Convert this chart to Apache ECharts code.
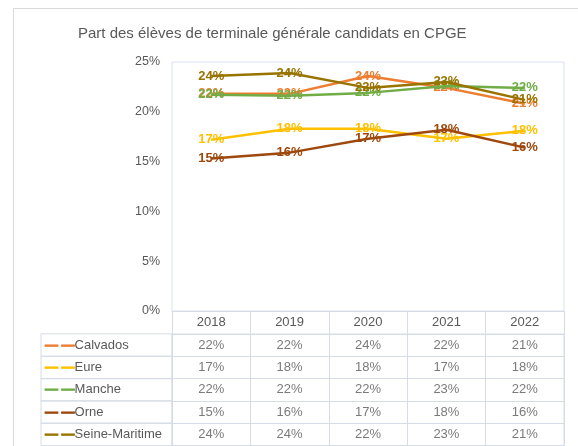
<!DOCTYPE html>
<html>
<head>
<meta charset="utf-8">
<script src="https://cdn.jsdelivr.net/npm/echarts@6/dist/echarts.min.js"></script>
<style>
html,body{margin:0;padding:0;background:#fff;}
#chart{width:578px;height:446px;}
</style>
</head>
<body>
<div id="chart"></div>
<script>
// ---- Data ----
const categories = ['2018', '2019', '2020', '2021', '2022'];
const seriesNames = ['Calvados', 'Eure', 'Manche', 'Orne', 'Seine-Maritime'];
const calvados = [21.8, 21.8, 23.6, 22.4, 20.8];
const eure = [17.2, 18.3, 18.3, 17.3, 18.1];
const manche = [21.7, 21.6, 21.9, 22.6, 22.4];
const orne = [15.3, 15.9, 17.3, 18.2, 16.4];
const seineMaritime = [23.6, 23.9, 22.4, 23.0, 21.2];
const yTicks = { min: 0, max: 25, interval: 5 };
const titleText = 'Part des élèves de terminale générale candidats en CPGE';

// ---- Styles ----
const colors = ['#ED7D31', '#FFC000', '#70AD47', '#9E480E', '#997300'];
const textGray = '#595959';
const tableColor = '#D6DCE5';
const fontFamily = '"Liberation Sans", Arial, sans-serif';

const allValues = [calvados, eure, manche, orne, seineMaritime];
const fmt = v => Math.round(v) + '%';

const lineSeries = seriesNames.map((name, i) => ({
  name: name,
  type: 'line',
  xAxisIndex: 0,
  yAxisIndex: 0,
  data: allValues[i],
  symbol: 'circle',
  symbolSize: 1,
  showSymbol: true,
  lineStyle: { color: colors[i], width: 2.5 },
  itemStyle: { color: colors[i] },
  label: {
    show: true,
    position: 'inside',
    formatter: p => fmt(p.value),
    color: colors[i],
    fontSize: 13,
    fontWeight: 'bold',
    fontFamily: fontFamily
  },
  labelLayout: { hideOverlap: false },
  z: 2 + i
}));

const tableData = [];
seriesNames.forEach((name, i) => {
  categories.forEach((c, j) => {
    tableData.push([c, name, allValues[i][j]]);
  });
});

const rowH = 22.6;
const rich = { n: { color: textGray, fontSize: 13, lineHeight: rowH, fontFamily: fontFamily } };
colors.forEach((c, i) => {
  rich['k' + i] = {
    color: c, fontSize: 13, lineHeight: rowH, fontWeight: 'bold', fontFamily: fontFamily,
    textBorderColor: c, textBorderWidth: 0.8
  };
});

const option = {
  animation: false,
  backgroundColor: '#ffffff',
  textStyle: { fontFamily: fontFamily },
  title: {
    text: titleText,
    left: 73,
    top: 21,
    textStyle: { fontSize: 15, fontWeight: 'normal', color: textGray, fontFamily: fontFamily }
  },
  graphic: [{
    type: 'rect',
    shape: { x: 13.5, y: 8.5, width: 700, height: 600 },
    style: { fill: 'none', stroke: '#D9D9D9', lineWidth: 1 },
    z: -10,
    silent: true
  }],
  grid: [
    { left: 172, top: 62, width: 392, height: 249, show: true, borderColor: '#DAE3F3', borderWidth: 1, containLabel: false },
    { left: 172, top: 334, width: 392, height: 113, show: true, borderColor: tableColor, borderWidth: 1, containLabel: false }
  ],
  xAxis: [
    {
      gridIndex: 0,
      type: 'category',
      data: categories,
      boundaryGap: true,
      axisLine: { show: true, lineStyle: { color: tableColor, width: 1 } },
      axisTick: { show: true, length: 23, inside: false, lineStyle: { color: tableColor } },
      axisLabel: { color: textGray, fontSize: 13, margin: 5, fontFamily: fontFamily },
      splitLine: { show: false }
    },
    {
      gridIndex: 1,
      type: 'category',
      data: categories,
      boundaryGap: true,
      axisLine: { show: false },
      axisTick: { show: false },
      axisLabel: { show: false },
      splitLine: { show: true, lineStyle: { color: tableColor, width: 1 } }
    }
  ],
  yAxis: [
    {
      gridIndex: 0,
      type: 'value',
      min: yTicks.min,
      max: yTicks.max,
      interval: yTicks.interval,
      axisLine: { show: false },
      axisTick: { show: false },
      splitLine: { show: false },
      axisLabel: { formatter: '{value}%', color: textGray, fontSize: 12.5, margin: 12, fontFamily: fontFamily }
    },
    {
      gridIndex: 1,
      type: 'category',
      data: seriesNames,
      inverse: true,
      boundaryGap: true,
      axisLine: { show: false },
      axisTick: { show: false },
      splitLine: { show: true, interval: 0, lineStyle: { color: tableColor, width: 1 } },
      axisLabel: {
        interval: 0,
        hideOverlap: false,
        margin: 131,
        align: 'left',
        verticalAlign: 'middle',
        width: 127,
        padding: [0, 0, 0, 4],
        borderColor: tableColor,
        borderWidth: 1,
        formatter: (v, idx) => '{k' + idx + '|— —}{n|' + v + '}',
        rich: rich
      }
    }
  ],
  series: lineSeries.concat([{
    type: 'scatter',
    xAxisIndex: 1,
    yAxisIndex: 1,
    data: tableData,
    symbolSize: 1,
    itemStyle: { color: 'rgba(0,0,0,0)' },
    silent: true,
    label: {
      show: true,
      position: 'inside',
      formatter: p => fmt(p.value[2]),
      color: textGray,
      fontSize: 13,
      fontFamily: fontFamily
    }
  }])
};

const chart = echarts.init(document.getElementById('chart'), null, { renderer: 'canvas' });
chart.setOption(option);
</script>
</body>
</html>
